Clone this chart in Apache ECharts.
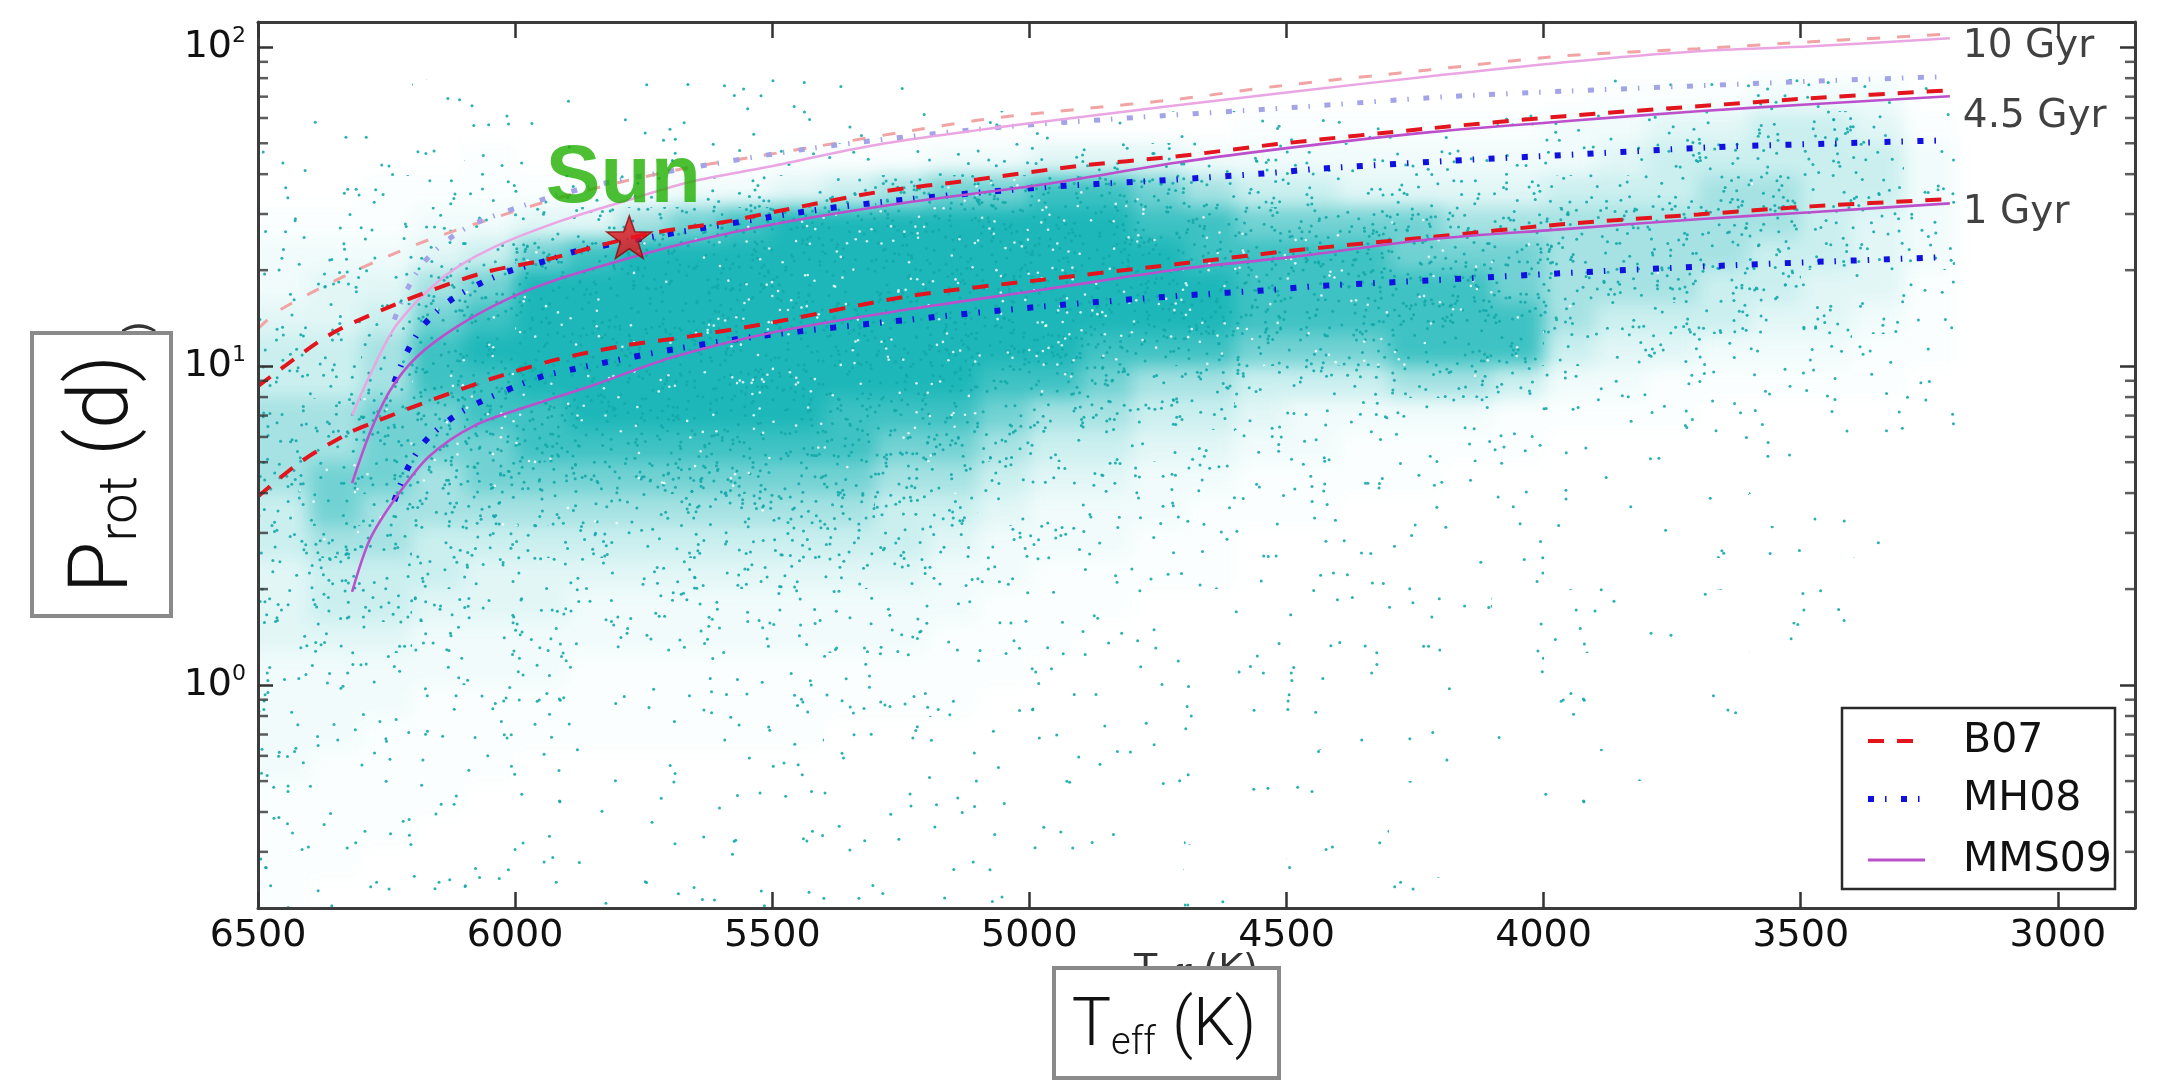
<!DOCTYPE html>
<html><head><meta charset="utf-8">
<script src="https://cdn.jsdelivr.net/npm/echarts@6/dist/echarts.min.js"></script>
<style>
html,body{margin:0;padding:0;background:#fff;}
#wrap{position:absolute;left:258px;top:22px;width:1877px;height:886px;overflow:hidden;}
#bg{position:absolute;left:-258px;top:-22px;width:2167px;height:1081px;filter:blur(9px);}
#c{position:absolute;left:0;top:0;width:2167px;height:1081px;}
</style>
</head><body>
<div id="wrap"><div id="bg"></div></div>
<div id="c"></div>
<script>
// ---------------- data ----------------
const xTicks = [6500, 6000, 5500, 5000, 4500, 4000, 3500, 3000];
const yMinorTicks = [0.3,0.4,0.5,0.6,0.7,0.8,0.9, 2,3,4,5,6,7,8,9, 20,30,40,50,60,70,80,90];

// density of the Kepler star cloud: bins in Teff (columns) and log Prot (rows)
const tEdges = [6500,6400,6300,6200,6100,6000,5900,5800,5700,5600,5500,5400,5300,5200,5100,5000,4900,4800,4700,4600,4500,4400,4300,4200,4100,4000,3900,3800,3700,3600,3500,3400,3300,3200];
const pEdges = [0.2,0.251,0.316,0.398,0.501,0.631,0.794,1,1.26,1.58,2,2.51,3.16,3.98,5.01,6.31,7.94,10,12.6,15.8,20,25.1,31.6,39.8,50.1,63.1,79.4,100,126];
// one string per Teff column, top row (79-126 d) first, level 0..9
const densityCols = [
 "0001112334556665544433332222",
 "0001112344556677655433322221",
 "0001122345667776655433222211",
 "0011123467887766554332222111",
 "0011223578988776544332221111",
 "0011124799998876544332211111",
 "0011124899999876543322211111",
 "0011126999999876543322211111",
 "0011137999999876543322211111",
 "0011138999999876543322211111",
 "0011249999999876543322211111",
 "0011259999998876543322111111",
 "0011269999998765543322111111",
 "0001379999998765433222111111",
 "0001379999987654332221111111",
 "0001489999986543322211111110",
 "0001489999876543322111111101",
 "0001478999865433221111111010",
 "0001368899865432221111110101",
 "0002357888754322111111101100",
 "0002357888753322111111011010",
 "0002347888753221111110110100",
 "0002347788863221111101101001",
 "0002346788863211111011010010",
 "0002346778852211110110100100",
 "0003356666532111101101001000",
 "0023456665432111011010010000",
 "0024556665422110110100100000",
 "0024566655321101101001000000",
 "0035566554321110100100000000",
 "0035555544321101001000000000",
 "0034554443221100100000000000",
 "0012333322211000000000000000"
];

// gyrochronology isochrones [Teff, Prot]
const b07_1gyr  = [[6500,3.9],[6418,5.0],[6321,6.2],[6274,6.67],[6210,7.33],[6165,7.8],[6049,9.1],[5918,10.5],[5788,11.6],[5660,12.4],[5490,13.8],[5232,16.6],[4971,18.7],[4712,20.9],[4492,23.0],[4220,25.4],[3959,27.9],[3700,29.9],[3480,31.7],[3210,33.4]];
const b07_45gyr = [[6500,8.65],[6366,12.4],[6263,14.9],[6158,17.4],[6053,19.8],[5938,21.6],[5827,24.1],[5724,26.3],[5593,28.3],[5490,30.6],[5296,35.1],[5101,38.5],[4907,42.4],[4712,45.5],[4518,49.7],[4220,55.7],[3959,60.8],[3700,65.3],[3480,69.2],[3210,73.3]];
const b07_10gyr = [[6500,13.1],[6463,14.8],[6372,17.8],[6274,21.2],[6165,25.0],[6049,28.9],[5918,33.6],[5788,38.0],[5660,42.0],[5529,45.5],[5101,59.0],[4900,64.0],[4712,68.7],[4518,75.5],[4220,85.0],[3959,94.0],[3700,99.0],[3480,104.0],[3210,110.0]];
const mh08_1gyr  = [[6235,3.78],[6210,4.75],[6175,5.82],[6126,6.82],[6070,7.7],[5951,9.25],[5885,9.8],[5821,10.3],[5691,11.3],[5529,12.4],[5232,14.0],[4971,15.4],[4712,16.6],[4518,17.4],[4446,17.8],[4187,18.7],[3928,19.7],[3668,20.6],[3480,21.2],[3210,22.0]];
const mh08_45gyr = [[6235,8.9],[6210,11.1],[6177,13.5],[6128,16.0],[6070,18.1],[6010,19.9],[5944,21.3],[5879,23.0],[5815,24.1],[5724,25.6],[5432,30.6],[5232,33.4],[4971,36.4],[4712,38.5],[4518,40.5],[4446,41.5],[4187,44.0],[3928,46.2],[3668,48.6],[3480,49.7],[3210,51.1]];
const mh08_10gyr = [[6235,14.0],[6210,17.4],[6177,21.2],[6128,25.1],[6070,28.4],[5944,33.4],[5815,37.8],[5724,40.2],[5432,48.0],[5101,55.3],[4842,59.5],[4479,64.9],[4187,70.0],[3959,72.8],[3480,78.2],[3210,81.0]];
const mms09_1gyr  = [[6317,1.96],[6282,2.87],[6230,3.91],[6168,5.2],[6080,6.5],[5973,7.5],[5854,8.65],[5691,10.7],[5490,12.85],[5232,15.1],[4971,17.4],[4712,20.1],[4479,22.1],[4220,25.0],[3959,26.9],[3700,28.9],[3480,30.4],[3210,32.4]];
const mms09_45gyr = [[6317,4.3],[6282,6.2],[6243,8.4],[6191,10.7],[6113,13.3],[6016,16.2],[5918,18.7],[5788,21.6],[5660,24.5],[5490,28.0],[5232,32.7],[4971,37.2],[4712,43.5],[4479,48.7],[4220,54.2],[3959,58.6],[3700,63.0],[3480,66.3],[3210,70.2]];
const mms09_10gyr = [[6317,7.0],[6282,9.4],[6230,13.5],[6138,19.1],[6049,23.3],[5918,28.3],[5788,32.9],[5660,37.8],[5510,42.1],[5296,49.5],[4971,58.5],[4479,72.8],[4220,81.1],[3959,89.8],[3700,97.2],[3480,100.7],[3210,106.7]];
const ageLabels = ['10 Gyr', '4.5 Gyr', '1 Gyr'];
const sunPoint = [5778, 25.4];

// ---------------- styling helpers ----------------
const FONT = 'DejaVu Sans';
// deterministic integer mixing (murmur3 finaliser), used only to lay out the speckle texture of the fill pattern
function fmix(h) {
  h ^= h >>> 16; h = Math.imul(h, 0x85ebca6b);
  h ^= h >>> 13; h = Math.imul(h, 0xc2b2ae35);
  h ^= h >>> 16;
  return (h >>> 0) / 4294967296;
}
function speckle(ctx, S, count, start, radius) {
  for (let i = start; i < start + count; i++) {
    const x = fmix(Math.imul(i + 1, 0x9e3779b1) ^ 0x1b873593) * S;
    const y = fmix(Math.imul(i + 7, 0x85ebca77) ^ 0x68e31da4) * S;
    for (const dx of [-S, 0, S]) for (const dy of [-S, 0, S]) {
      const px = x + dx, py = y + dy;
      if (px < -3 || px > S + 3 || py < -3 || py > S + 3) continue;
      ctx.beginPath(); ctx.arc(px, py, radius, 0, Math.PI * 2); ctx.fill();
    }
  }
}
const TILE = 1024, AREA = (TILE / 256) * (TILE / 256);
function makeDotTile(level) {
  const cv = document.createElement('canvas');
  cv.width = TILE; cv.height = TILE;
  const ctx = cv.getContext('2d');
  const n = [0, 70, 120, 190, 280, 380, 500, 600, 650, 600][level] * AREA;
  const w = [0, 0, 0, 0, 0, 0, 20, 60, 110, 160][level] * AREA;
  ctx.fillStyle = 'rgba(20,168,170,0.9)';
  speckle(ctx, TILE, n, 0, 1.5);
  ctx.fillStyle = 'rgba(255,255,255,0.8)';
  speckle(ctx, TILE, w, 200000, 1.3);
  return { image: cv, repeat: 'repeat' };
}
const dotPatterns = [null];
for (let k = 1; k <= 9; k++) dotPatterns.push(makeDotTile(k));
const tintAlpha = [0, 0, 0.02, 0.06, 0.12, 0.22, 0.38, 0.6, 0.82, 0.96];

const cells = [];
densityCols.forEach((col, c) => {
  for (let j = 0; j < 28; j++) {
    const lv = +col[j];
    if (!lv) continue;
    const r = 27 - j;
    cells.push([tEdges[c], tEdges[c + 1], pEdges[r], pEdges[r + 1], lv]);
  }
});

function cellRender(mode) {
  return (params, api) => {
    const a = api.coord([api.value(0), api.value(3)]);
    const b = api.coord([api.value(1), api.value(2)]);
    let x0 = Math.round(Math.min(a[0], b[0])), x1 = Math.round(Math.max(a[0], b[0]));
    let y0 = Math.round(Math.min(a[1], b[1])), y1 = Math.round(Math.max(a[1], b[1]));
    const lv = api.value(4);
    if (mode === 'tint') {
      const cs = params.coordSys;
      if (x0 <= cs.x + 1) x0 -= 30;
      if (y1 >= cs.y + cs.height - 1) y1 += 30;
      return { type: 'rect', shape: { x: x0, y: y0, width: x1 - x0, height: y1 - y0 },
               style: { fill: 'rgba(20,180,182,' + tintAlpha[lv] + ')' }, silent: true };
    }
    return { type: 'rect', shape: { x: x0, y: y0, width: x1 - x0, height: y1 - y0 },
             style: { fill: dotPatterns[lv] }, silent: true };
  };
}

const C_B07 = '#e3141c', C_B07L = '#f2a3a3';
const C_MH = '#1010e0', C_MHL = '#a3a3e8';
const C_MMS = '#bb4fcc', C_MMSL = '#eaa6e2';
const DASH_B07 = [16, 13], DASH_B07L = [13, 17];
const DASH_MH = [6, 11, 1.5, 14.5];

function lineSeries(name, data, color, width, type, z) {
  return { name, type: 'line', data, showSymbol: false, symbol: 'none', smooth: 0.3,
    silent: true, z, clip: true,
    lineStyle: { color, width, type, cap: 'butt' } };
}

const starPath = 'path://M0,-50 L11.8,-16.2 L47.6,-15.5 L19.1,6.2 L29.4,40.5 L0,20 L-29.4,40.5 L-19.1,6.2 L-47.6,-15.5 L-11.8,-16.2 Z';

const axisLineStyle = { color: '#3c3c3c', width: 3 };
const tickStyle = { color: '#333', width: 2.5 };
const GRID = { left: 258, top: 22, width: 1877, height: 886, containLabel: false };

const xBase = {
  type: 'value', inverse: true, min: 2850, max: 6500, z: 10,
  splitLine: { show: false },
  axisLine: { show: true, onZero: false, lineStyle: axisLineStyle },
  axisTick: { show: true, inside: true, length: 16, lineStyle: tickStyle, customValues: xTicks },
};
const yBase = {
  type: 'log', logBase: 10, min: 0.2, max: 120, z: 10,
  splitLine: { show: false }, minorTick: { show: false },
  axisLine: { show: true, onZero: false, lineStyle: axisLineStyle },
  axisTick: { show: true, inside: true, length: 15, lineStyle: tickStyle },
};

// ---------- blurred tint layer (density of the star cloud) ----------
const bgChart = echarts.init(document.getElementById('bg'), null, { renderer: 'canvas', width: 2167, height: 1081 });
bgChart.setOption({
  animation: false,
  grid: GRID,
  xAxis: { type: 'value', inverse: true, min: 2850, max: 6500, show: false },
  yAxis: { type: 'log', logBase: 10, min: 0.2, max: 120, show: false },
  series: [{ type: 'custom', data: cells, silent: true, clip: false,
    encode: { x: [0, 1], y: [2, 3] }, renderItem: cellRender('tint') }]
});

// ---------- main chart ----------
const option = {
  animation: false,
  backgroundColor: 'transparent',
  grid: GRID,
  xAxis: [
    Object.assign({}, xBase, { position: 'bottom',
      axisLabel: { show: true, customValues: xTicks, formatter: v => String(v),
        fontFamily: FONT, fontSize: 38, color: '#111', margin: 9 } }),
    Object.assign({}, xBase, { position: 'top', axisLabel: { show: false } })
  ],
  yAxis: [
    Object.assign({}, yBase, { position: 'left',
      axisLabel: { show: true, showMinLabel: false, showMaxLabel: false, margin: 12,
        formatter: v => '{m|10}{s|' + Math.round(Math.log10(v)) + '}',
        rich: { m: { fontFamily: FONT, fontSize: 38, color: '#111', lineHeight: 44 },
                s: { fontFamily: FONT, fontSize: 22, color: '#111', lineHeight: 22, verticalAlign: 'top' } } } }),
    Object.assign({}, yBase, { position: 'right', axisLabel: { show: false } })
  ],
  series: [
    { name: 'stars', type: 'custom', data: cells, z: 1, silent: true, clip: true,
      encode: { x: [0, 1], y: [2, 3] }, renderItem: cellRender('dots') },
    lineSeries('B07 10 Gyr', b07_10gyr, C_B07L, 3, DASH_B07L, 2),
    lineSeries('MH08 10 Gyr', mh08_10gyr, C_MHL, 5, DASH_MH, 2),
    lineSeries('MMS09 10 Gyr', mms09_10gyr, C_MMSL, 2.5, 'solid', 2),
    lineSeries('MH08', mh08_1gyr, C_MH, 6, DASH_MH, 3),
    lineSeries('MH08', mh08_45gyr, C_MH, 6, DASH_MH, 3),
    lineSeries('B07', b07_1gyr, C_B07, 4, DASH_B07, 3),
    lineSeries('B07', b07_45gyr, C_B07, 4, DASH_B07, 3),
    lineSeries('MMS09', mms09_1gyr, C_MMS, 2.6, 'solid', 4),
    lineSeries('MMS09', mms09_45gyr, C_MMS, 2.6, 'solid', 4),
    { name: 'ages', type: 'scatter', symbolSize: 0, silent: true, z: 5, clip: false,
      data: [
        { value: mms09_10gyr[mms09_10gyr.length - 1], name: ageLabels[0], label: { offset: [0, 9] } },
        { value: mms09_45gyr[mms09_45gyr.length - 1], name: ageLabels[1], label: { offset: [0, 21] } },
        { value: mms09_1gyr[mms09_1gyr.length - 1], name: ageLabels[2], label: { offset: [0, 10] } }
      ],
      label: { show: true, position: 'right', distance: 13, formatter: p => p.name,
               fontFamily: FONT, fontSize: 39, color: '#111' } },
    { name: 'minorL', type: 'scatter', silent: true, z: 6, clip: false,
      data: yMinorTicks.map(v => [6500, v]), symbol: 'rect', symbolSize: [10, 2.5], symbolOffset: [5, 0],
      itemStyle: { color: '#333' } },
    { name: 'minorR', type: 'scatter', silent: true, z: 6, clip: false,
      data: yMinorTicks.map(v => [2850, v]), symbol: 'rect', symbolSize: [10, 2.5], symbolOffset: [-5, 0],
      itemStyle: { color: '#333' } },
    { name: 'Sun', type: 'scatter', silent: true, z: 7, clip: false,
      data: [sunPoint], symbol: starPath, symbolSize: 45, symbolKeepAspect: true,
      itemStyle: { color: '#e8141c', borderColor: '#8a0a0a', borderWidth: 1.5 },
      label: { show: true, formatter: 'Sun', position: 'inside', offset: [-6, -58],
               fontFamily: 'Liberation Sans', fontWeight: 'bold', fontSize: 82, color: '#1faf00' } }
  ],
  graphic: [
    // remnants of the original axis titles, partly hidden by the boxes
    { type: 'text', x: 1196, y: 950, z: 50, silent: true,
      style: { text: '{a|T}{b|eff}{a| (K)}', align: 'center', verticalAlign: 'top',
        rich: { a: { fontFamily: FONT, fontSize: 38, lineHeight: 40, fill: '#333' },
                b: { fontFamily: FONT, fontSize: 26, lineHeight: 28, fill: '#333', verticalAlign: 'bottom' } } } },
    { type: 'text', x: 140, y: 321, rotation: Math.PI / 2, z: 50, silent: true,
      style: { text: '{a|P}{b|rot}{a| (d)}', align: 'right', verticalAlign: 'middle',
        rich: { a: { fontFamily: FONT, fontSize: 38, lineHeight: 40, fill: '#333' },
                b: { fontFamily: FONT, fontSize: 26, lineHeight: 28, fill: '#333', verticalAlign: 'bottom' } } } },
    // boxed axis titles
    { type: 'rect', z: 60, silent: true, shape: { x: 1054, y: 968, width: 225, height: 110 },
      style: { fill: '#fff', stroke: '#8a8a8a', lineWidth: 4 } },
    { type: 'text', x: 1164, y: 1028, z: 61, silent: true,
      style: { text: '{a|T}{b|eff}{a| (K)}', align: 'center', verticalAlign: 'middle',
        rich: { a: { fontFamily: 'Roboto', fontWeight: 300, fontSize: 66, lineHeight: 70, fill: '#111' },
                b: { fontFamily: 'Roboto', fontWeight: 300, fontSize: 38, lineHeight: 40, fill: '#111', verticalAlign: 'bottom' } } } },
    { type: 'rect', z: 60, silent: true, shape: { x: 32, y: 333, width: 139, height: 283 },
      style: { fill: '#fff', stroke: '#8a8a8a', lineWidth: 4 } },
    { type: 'text', x: 106, y: 474, rotation: Math.PI / 2, z: 61, silent: true,
      style: { text: '{a|P}{b|rot}{a| (d)}', align: 'center', verticalAlign: 'middle',
        rich: { a: { fontFamily: 'Roboto', fontWeight: 300, fontSize: 84, lineHeight: 86, fill: '#111' },
                b: { fontFamily: 'Roboto', fontWeight: 300, fontSize: 54, lineHeight: 56, fill: '#111', verticalAlign: 'bottom' } } } },
    // legend
    { type: 'rect', z: 70, silent: true, shape: { x: 1842, y: 708, width: 273, height: 181 },
      style: { fill: '#fff', stroke: '#2a2a2a', lineWidth: 2.5 } },
    { type: 'line', z: 71, silent: true, shape: { x1: 1868, y1: 741, x2: 1925, y2: 741 },
      style: { stroke: C_B07, lineWidth: 4, lineDash: DASH_B07, lineCap: 'butt' } },
    { type: 'line', z: 71, silent: true, shape: { x1: 1868, y1: 799, x2: 1925, y2: 799 },
      style: { stroke: C_MH, lineWidth: 6, lineDash: DASH_MH, lineCap: 'butt' } },
    { type: 'line', z: 71, silent: true, shape: { x1: 1868, y1: 860, x2: 1925, y2: 860 },
      style: { stroke: C_MMS, lineWidth: 3, lineCap: 'butt' } },
    { type: 'text', z: 71, silent: true, x: 1963, y: 741,
      style: { text: 'B07', fontFamily: FONT, fontSize: 41, fill: '#111', verticalAlign: 'middle' } },
    { type: 'text', z: 71, silent: true, x: 1963, y: 799,
      style: { text: 'MH08', fontFamily: FONT, fontSize: 41, fill: '#111', verticalAlign: 'middle' } },
    { type: 'text', z: 71, silent: true, x: 1963, y: 860,
      style: { text: 'MMS09', fontFamily: FONT, fontSize: 41, fill: '#111', verticalAlign: 'middle' } }
  ]
};

const chart = echarts.init(document.getElementById('c'), null, { renderer: 'canvas', width: 2167, height: 1081 });
chart.setOption(option);
</script>
</body></html>
